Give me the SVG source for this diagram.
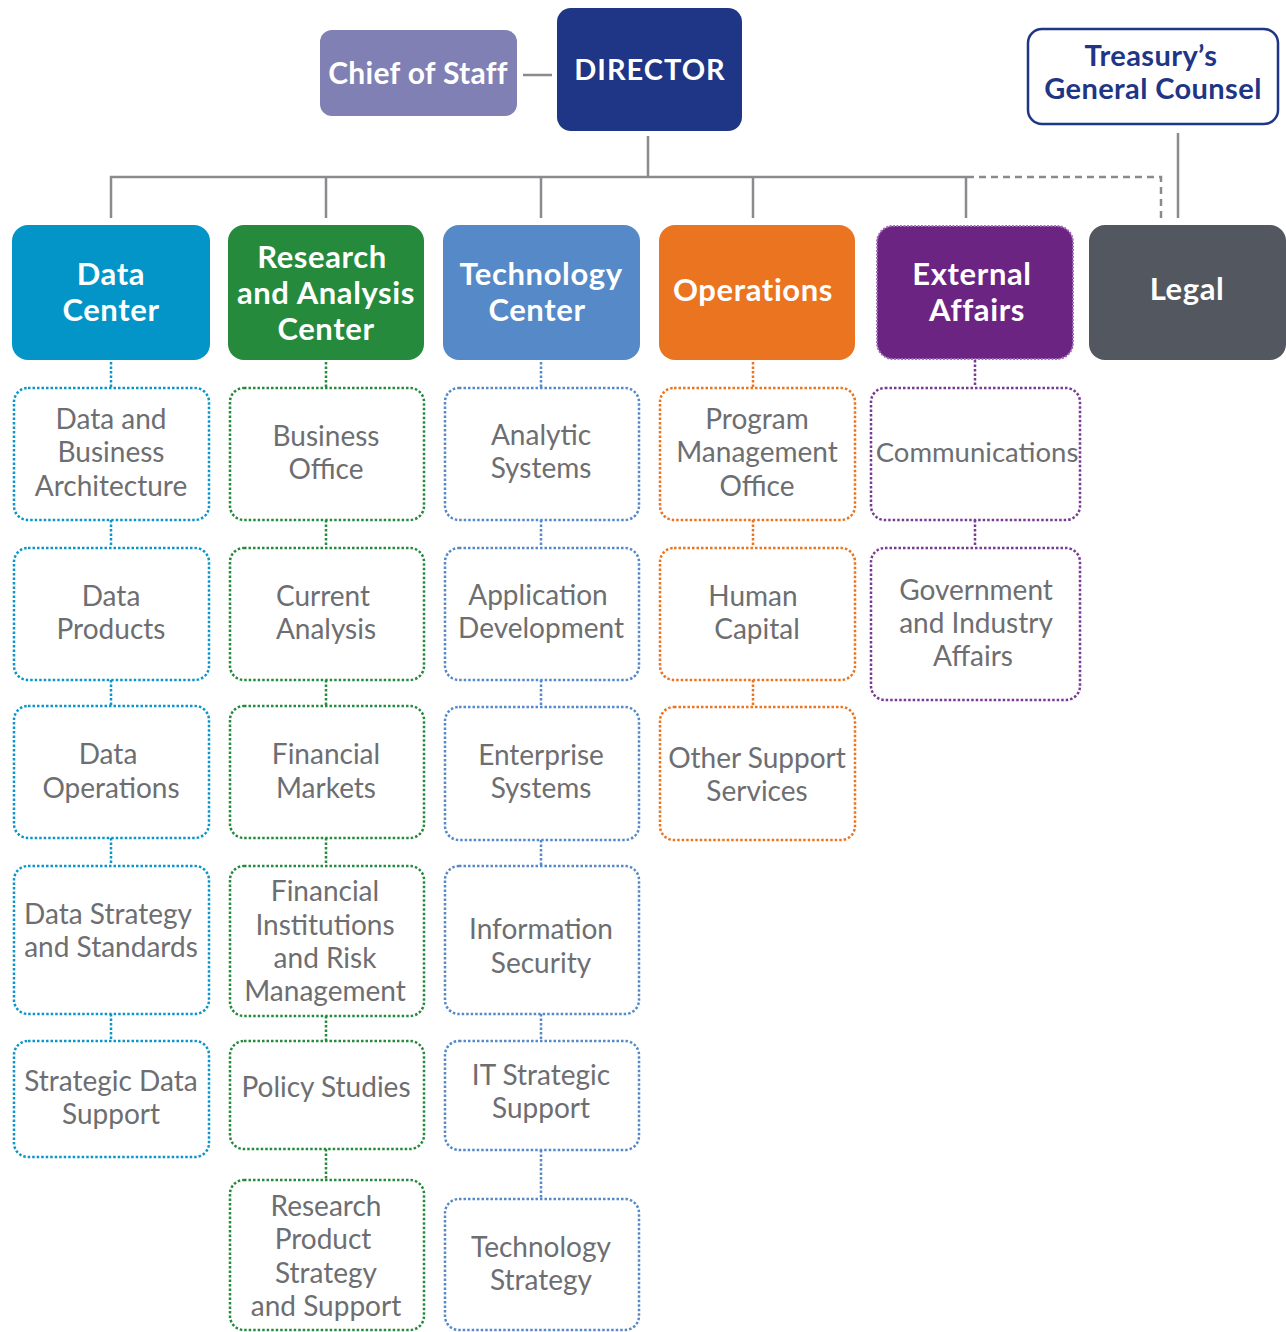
<svg xmlns="http://www.w3.org/2000/svg" width="1286" height="1332" viewBox="0 0 1286 1332">
<style>
.hd{font-family:Lato,"Liberation Sans",sans-serif;font-weight:700;fill:#fff;text-anchor:middle;font-size:31px;letter-spacing:0.6px}
.sb{font-family:Lato,"Liberation Sans",sans-serif;fill:#6d6e71;text-anchor:middle;font-size:28px}
.ln{stroke:#8a8b8e;stroke-width:2.5;fill:none}
.dl{stroke-width:2.5;fill:none;stroke-dasharray:2.5 2}
.box{fill:#fff;stroke-width:2.5;stroke-dasharray:2.5 2}
.c1{stroke:#0a96c9}.c2{stroke:#268a3c}.c3{stroke:#5589c8}.c4{stroke:#ea7420}.c5{stroke:#7a3a92}
</style>
<g id="connectors">
<line class="ln" x1="523" y1="75" x2="552" y2="75"/>
<line class="ln" x1="648" y1="136" x2="648" y2="177"/>
<line class="ln" x1="110" y1="177" x2="967" y2="177"/>
<line class="ln" x1="111" y1="176" x2="111" y2="218"/>
<line class="ln" x1="326" y1="176" x2="326" y2="218"/>
<line class="ln" x1="541" y1="176" x2="541" y2="218"/>
<line class="ln" x1="753" y1="176" x2="753" y2="218"/>
<line class="ln" x1="966" y1="176" x2="966" y2="218"/>
<path class="ln" d="M967 177 H1161 V218" stroke-dasharray="7 5"/>
<line class="ln" x1="1178" y1="133" x2="1178" y2="218"/>
<path class="dl c1" d="M111 362V387M111 520V547M111 680V706M111 838V865M111 1014V1041"/>
<path class="dl c2" d="M326 362V387M326 520V547M326 680V706M326 838V865M326 1016V1041M326 1149V1180"/>
<path class="dl c3" d="M541 362V387M541 520V547M541 680V707M541 840V865M541 1014V1041M541 1150V1199"/>
<path class="dl c4" d="M753 362V387M753 520V547M753 680V707"/>
<path class="dl c5" d="M975 360V387M975 520V547"/>
</g>
<g id="chief"><rect x="320" y="30" width="197" height="86" rx="12" fill="#8080b4"/><text class="hd" x="418" y="84" style="font-size:30px;letter-spacing:0.3px">Chief of Staff</text></g>
<g id="director"><rect x="557" y="8" width="185" height="123" rx="14" fill="#1f3585"/><text class="hd" x="650" y="80" style="font-size:29px;letter-spacing:1px">DIRECTOR</text></g>
<g id="counsel"><rect x="1028" y="29" width="250" height="95" rx="14" fill="#fff" stroke="#1f3585" stroke-width="2.5"/><text class="hd" style="fill:#1f3585;font-size:29px;letter-spacing:0.4px"><tspan x="1151" y="66">Treasury’s</tspan><tspan x="1153" y="99">General Counsel</tspan></text></g>
<g id="datacenter"><rect x="12" y="225" width="198" height="135" rx="16" fill="#0395c8"/><text class="hd"><tspan x="111" y="285">Data</tspan><tspan x="111" y="321">Center</tspan></text></g>
<g id="research"><rect x="228" y="225" width="196" height="135" rx="16" fill="#258a3c"/><text class="hd"><tspan x="322" y="268">Research</tspan><tspan x="326" y="304">and Analysis</tspan><tspan x="326" y="340">Center</tspan></text></g>
<g id="technology"><rect x="443" y="225" width="197" height="135" rx="16" fill="#5589c8"/><text class="hd"><tspan x="541" y="285">Technology</tspan><tspan x="537" y="321">Center</tspan></text></g>
<g id="operations"><rect x="659" y="225" width="196" height="135" rx="16" fill="#ea7420"/><text class="hd" x="753" y="301">Operations</text></g>
<g id="external"><rect x="877" y="226" width="196" height="133" rx="16" fill="#6c2483" stroke="#a070b8" stroke-width="2" stroke-dasharray="2 1.5"/><text class="hd"><tspan x="972" y="285">External</tspan><tspan x="977" y="321">Affairs</tspan></text></g>
<g id="legal"><rect x="1089" y="225" width="197" height="135" rx="16" fill="#535760"/><text class="hd" x="1187" y="300">Legal</text></g>

<g id="d1"><rect class="box c1" x="14" y="388" width="195" height="132" rx="14"/><text class="sb"><tspan x="111" y="429">Data and</tspan><tspan x="111" y="462">Business</tspan><tspan x="111" y="496">Architecture</tspan></text></g>
<g id="d2"><rect class="box c1" x="14" y="548" width="195" height="132" rx="14"/><text class="sb"><tspan x="111" y="606">Data</tspan><tspan x="111" y="639">Products</tspan></text></g>
<g id="d3"><rect class="box c1" x="14" y="706" width="195" height="132" rx="14"/><text class="sb"><tspan x="108" y="764">Data</tspan><tspan x="111" y="798">Operations</tspan></text></g>
<g id="d4"><rect class="box c1" x="14" y="866" width="195" height="148" rx="14"/><text class="sb"><tspan x="108" y="924">Data Strategy</tspan><tspan x="111" y="957">and Standards</tspan></text></g>
<g id="d5"><rect class="box c1" x="14" y="1041" width="195" height="116" rx="14"/><text class="sb"><tspan x="111" y="1091">Strategic Data</tspan><tspan x="111" y="1124">Support</tspan></text></g>

<g id="r1"><rect class="box c2" x="230" y="388" width="194" height="132" rx="14"/><text class="sb"><tspan x="326" y="446">Business</tspan><tspan x="326" y="479">Office</tspan></text></g>
<g id="r2"><rect class="box c2" x="230" y="548" width="194" height="132" rx="14"/><text class="sb"><tspan x="323" y="606">Current</tspan><tspan x="326" y="639">Analysis</tspan></text></g>
<g id="r3"><rect class="box c2" x="230" y="706" width="194" height="132" rx="14"/><text class="sb"><tspan x="326" y="764">Financial</tspan><tspan x="326" y="798">Markets</tspan></text></g>
<g id="r4"><rect class="box c2" x="230" y="866" width="194" height="150" rx="14"/><text class="sb"><tspan x="325" y="901">Financial</tspan><tspan x="325" y="935">Institutions</tspan><tspan x="325" y="968">and Risk</tspan><tspan x="325" y="1001">Management</tspan></text></g>
<g id="r5"><rect class="box c2" x="230" y="1041" width="194" height="108" rx="14"/><text class="sb" x="326" y="1097">Policy Studies</text></g>
<g id="r6"><rect class="box c2" x="230" y="1180" width="194" height="150" rx="14"/><text class="sb"><tspan x="326" y="1216">Research</tspan><tspan x="323" y="1249">Product</tspan><tspan x="326" y="1283">Strategy</tspan><tspan x="326" y="1316">and Support</tspan></text></g>

<g id="t1"><rect class="box c3" x="445" y="388" width="194" height="132" rx="14"/><text class="sb"><tspan x="541" y="445">Analytic</tspan><tspan x="541" y="478">Systems</tspan></text></g>
<g id="t2"><rect class="box c3" x="445" y="548" width="194" height="132" rx="14"/><text class="sb"><tspan x="538" y="605">Application</tspan><tspan x="541" y="638">Development</tspan></text></g>
<g id="t3"><rect class="box c3" x="445" y="707" width="194" height="133" rx="14"/><text class="sb"><tspan x="541" y="765">Enterprise</tspan><tspan x="541" y="798">Systems</tspan></text></g>
<g id="t4"><rect class="box c3" x="445" y="866" width="194" height="148" rx="14"/><text class="sb"><tspan x="541" y="939">Information</tspan><tspan x="541" y="973">Security</tspan></text></g>
<g id="t5"><rect class="box c3" x="445" y="1041" width="194" height="109" rx="14"/><text class="sb"><tspan x="541" y="1085">IT Strategic</tspan><tspan x="541" y="1118">Support</tspan></text></g>
<g id="t6"><rect class="box c3" x="445" y="1199" width="194" height="131" rx="14"/><text class="sb"><tspan x="541" y="1257">Technology</tspan><tspan x="541" y="1290">Strategy</tspan></text></g>

<g id="o1"><rect class="box c4" x="660" y="388" width="195" height="132" rx="14"/><text class="sb"><tspan x="757" y="429">Program</tspan><tspan x="757" y="462">Management</tspan><tspan x="757" y="496">Office</tspan></text></g>
<g id="o2"><rect class="box c4" x="660" y="548" width="195" height="132" rx="14"/><text class="sb"><tspan x="753" y="606">Human</tspan><tspan x="757" y="639">Capital</tspan></text></g>
<g id="o3"><rect class="box c4" x="660" y="707" width="195" height="133" rx="14"/><text class="sb"><tspan x="757" y="768">Other Support</tspan><tspan x="757" y="801">Services</tspan></text></g>

<g id="e1"><rect class="box c5" x="871" y="388" width="209" height="132" rx="14"/><text class="sb" x="977" y="462" style="font-size:27.5px">Communications</text></g>
<g id="e2"><rect class="box c5" x="871" y="548" width="209" height="152" rx="14"/><text class="sb"><tspan x="976" y="600">Government</tspan><tspan x="976" y="633">and Industry</tspan><tspan x="973" y="666">Affairs</tspan></text></g>
</svg>
